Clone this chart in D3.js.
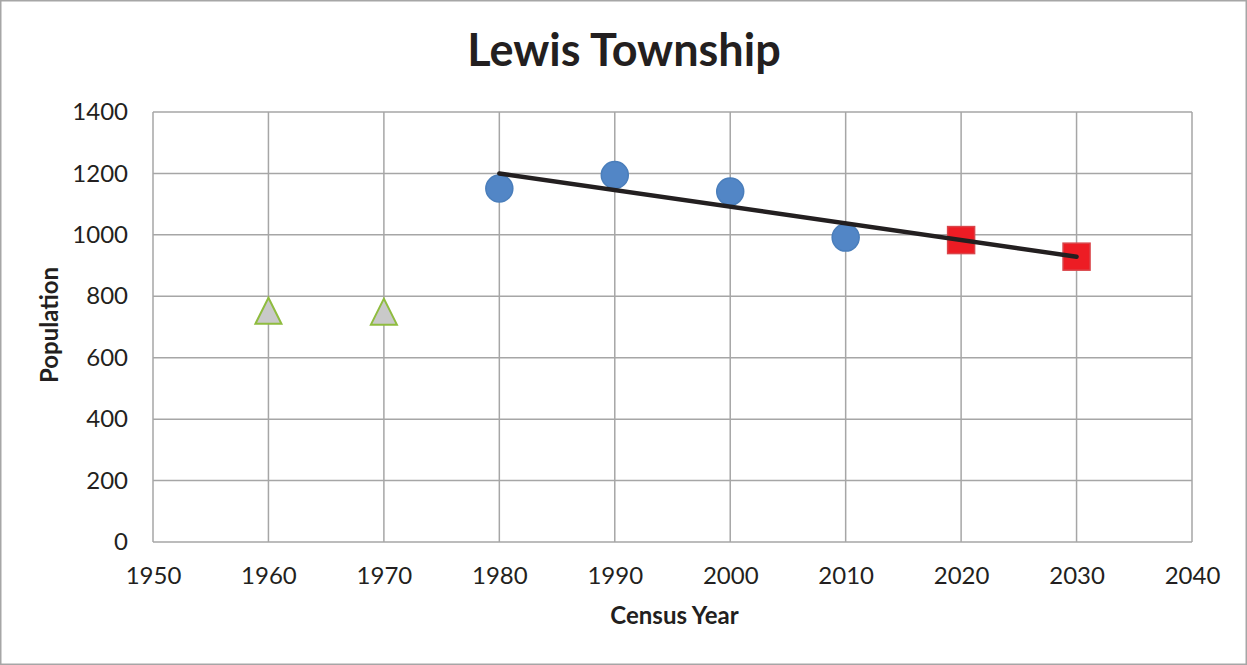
<!DOCTYPE html>
<html>
<head>
<meta charset="utf-8">
<script src="https://cdn.jsdelivr.net/npm/d3@7"></script>
<style>
  body { margin: 0; background: #fff; }
  text { font-family: Lato, "Open Sans", sans-serif; fill: #231f20; }
</style>
</head>
<body>
<div id="chart"></div>
<script>
// historic census (grey triangles)
const earlyYears = [1960, 1970];
const earlyPop = [753, 750];
// census counts (blue circles)
const censusYears = [1980, 1990, 2000, 2010];
const censusPop = [1151, 1195, 1141, 991];
// projections (red squares)
const projYears = [2020, 2030];
const projPop = [983, 929];
// linear trend line end points
const trendYears = [1980, 2030];
const trendPop = [1200, 929];

const xTicks = [1950, 1960, 1970, 1980, 1990, 2000, 2010, 2020, 2030, 2040];
const yTicks = [0, 200, 400, 600, 800, 1000, 1200, 1400];

const W = 1247, H = 665;
const margin = { top: 112, right: 55, bottom: 123, left: 153 };
const width = W - margin.left - margin.right;
const height = H - margin.top - margin.bottom;

const svg = d3.select("#chart").append("svg")
  .attr("width", W).attr("height", H);

svg.append("rect")
  .attr("x", 0.5).attr("y", 0.5)
  .attr("width", W - 1).attr("height", H - 1)
  .attr("fill", "#fff").attr("stroke", "#a6a6a6").attr("stroke-width", 2);

const g = svg.append("g")
  .attr("transform", "translate(" + margin.left + "," + margin.top + ")");

const x = d3.scaleLinear().domain([1950, 2040]).range([0, width]);
const y = d3.scaleLinear().domain([0, 1400]).range([height, 0]);

// grid
g.append("g").selectAll("line").data(xTicks).enter().append("line")
  .attr("x1", d => x(d)).attr("x2", d => x(d))
  .attr("y1", 0).attr("y2", height)
  .attr("stroke", "#a6a6a6").attr("stroke-width", 1.5);
g.append("g").selectAll("line").data(yTicks).enter().append("line")
  .attr("x1", 0).attr("x2", width)
  .attr("y1", d => y(d)).attr("y2", d => y(d))
  .attr("stroke", "#a6a6a6").attr("stroke-width", 1.5);

// axes (labels only)
const xAxis = g.append("g")
  .attr("transform", "translate(0," + height + ")")
  .call(d3.axisBottom(x).tickValues(xTicks).tickFormat(d3.format("d")).tickSize(0).tickPadding(34));
const yAxis = g.append("g")
  .call(d3.axisLeft(y).tickValues(yTicks).tickFormat(d3.format("d")).tickSize(0).tickPadding(25));
[xAxis, yAxis].forEach(a => {
  a.select(".domain").remove();
  a.attr("font-family", null).attr("font-size", null);
  a.selectAll("text").attr("font-size", 24);
});
xAxis.selectAll("text").attr("dy", "0.35em");

// axis titles
svg.append("text")
  .attr("x", margin.left + width / 2 + 2).attr("y", 624)
  .attr("text-anchor", "middle").attr("font-size", 24).attr("font-weight", "bold")
  .text("Census Year");
svg.append("text")
  .attr("transform", "translate(58," + (margin.top + height / 2 - 2) + ") rotate(-90)")
  .attr("text-anchor", "middle").attr("font-size", 24).attr("font-weight", "bold")
  .text("Population");

// title
svg.append("text")
  .attr("x", 624).attr("y", 66)
  .attr("text-anchor", "middle").attr("font-size", 45).attr("font-weight", "bold")
  .text("Lewis Township");

// triangles
g.selectAll(".tri").data(earlyYears).enter().append("path")
  .attr("class", "tri")
  .attr("d", "M0,-13 L13,13 L-13,13 Z")
  .attr("transform", (d, i) => "translate(" + x(d) + "," + y(earlyPop[i]) + ")")
  .attr("fill", "#c9c9c9").attr("stroke", "#8fbc3f").attr("stroke-width", 2);

// circles
g.selectAll(".dot").data(censusYears).enter().append("circle")
  .attr("class", "dot")
  .attr("cx", d => x(d)).attr("cy", (d, i) => y(censusPop[i]))
  .attr("r", 13.5)
  .attr("fill", "#5286c6").attr("stroke", "#4a7ebb").attr("stroke-width", 1.5);

// squares
g.selectAll(".sq").data(projYears).enter().append("rect")
  .attr("class", "sq")
  .attr("x", d => x(d) - 13.5).attr("y", (d, i) => y(projPop[i]) - 13.5)
  .attr("width", 27).attr("height", 27)
  .attr("fill", "#ed1c24").attr("stroke", "#d9454a").attr("stroke-width", 1.5);

// trend line on top of markers
g.append("line")
  .attr("x1", x(trendYears[0])).attr("y1", y(trendPop[0]))
  .attr("x2", x(trendYears[1])).attr("y2", y(trendPop[1]))
  .attr("stroke", "#231f20").attr("stroke-width", 4.5).attr("stroke-linecap", "round");
</script>
</body>
</html>
